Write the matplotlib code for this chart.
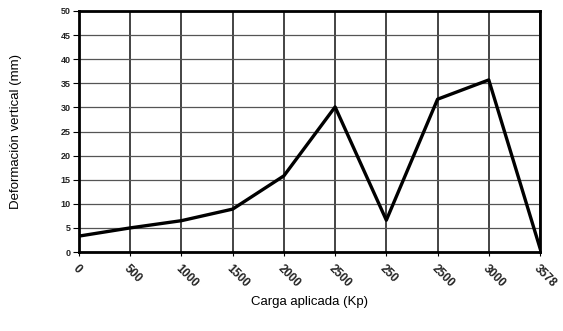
import numpy as np
import matplotlib
matplotlib.use("Agg")
import matplotlib.pyplot as plt

plt.rcParams['font.family'] = ['Liberation Sans', 'DejaVu Sans']

cargas = ["0", "500", "1000", "1500", "2000", "2500", "250", "2500", "3000", "3578"]
deformacion = [3.3, 5.0, 6.5, 8.9, 15.8, 30.1, 6.6, 31.7, 35.7, 0.8]

fig = plt.figure(figsize=(5.63, 3.31), dpi=100)
ax = fig.add_axes([79/563, 1 - 252/331, (540-79)/563, (252-11)/331])

x = np.arange(len(cargas))
ax.plot(x, deformacion, color="black", linewidth=2.4, zorder=3)

ax.set_xlim(0, len(cargas) - 1)
ax.set_ylim(0, 50)
ax.set_yticks(range(0, 51, 5))
ax.set_xticks(x)
ax.set_xticklabels(cargas, rotation=-45, ha="left", va="top", rotation_mode="anchor",
                   fontsize=8.5, fontweight="bold", color="#222222")
for lbl in ax.get_yticklabels():
    lbl.set_fontweight("bold")
    lbl.set_color("#222222")
ax.tick_params(axis="y", labelsize=6.5, length=4, width=0.8, pad=2)
ax.tick_params(axis="x", length=3, width=0.8, pad=5)

ax.grid(axis="y", color="#555555", linewidth=0.9, linestyle="-")
ax.grid(axis="x", color="#111111", linewidth=1.1, linestyle="-")
for s in ax.spines.values():
    s.set_linewidth(2.0)

ax.set_xlabel("Carga aplicada (Kp)", fontsize=9.5, labelpad=4)
ax.set_ylabel("Deformación vertical (mm)", fontsize=9.5, labelpad=28)

fig.savefig("out.png", dpi=100)
